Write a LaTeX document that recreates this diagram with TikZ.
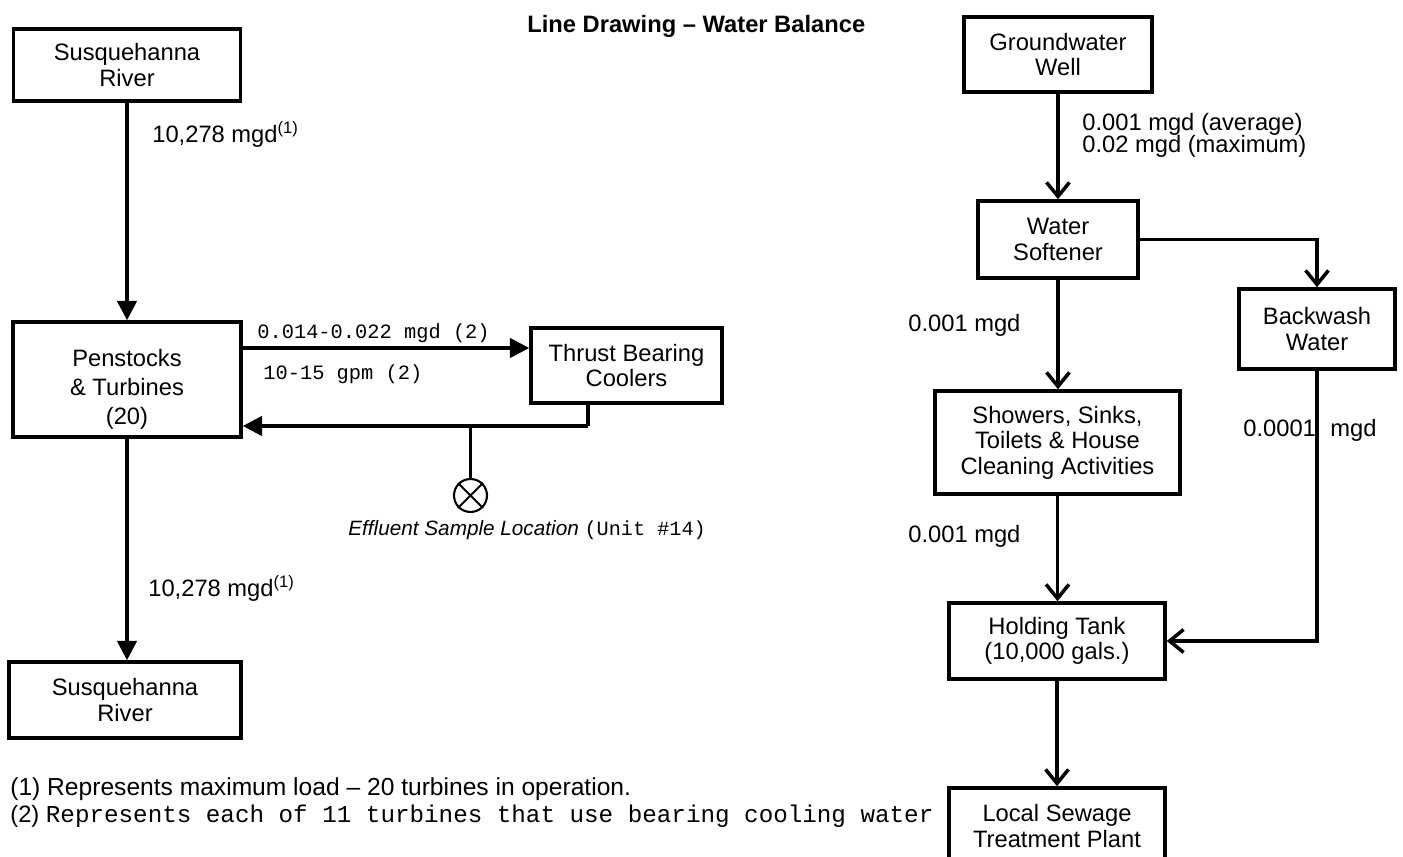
\documentclass[tikz,border=0pt]{standalone}
\usepackage{fontspec}
\setmainfont{Liberation Sans}
\setmonofont{Liberation Mono}
\usetikzlibrary{arrows.meta,calc}
\begin{document}
\begin{tikzpicture}[x=0.02cm,y=-0.02cm,
  box/.style={draw, line width=2pt, align=center, inner sep=0pt, font=\fontsize{13.5}{14.5}\selectfont},
  lbl/.style={anchor=base west, inner sep=0pt, font=\fontsize{13.5}{14.5}\selectfont},
  mlbl/.style={anchor=base west, inner sep=0pt, font=\fontsize{11.6}{13}\selectfont\ttfamily},
  flow/.style={line width=2pt, -{Triangle[length=11pt,width=11pt]}},
  oflow/.style={line width=2pt, -{Straight Barb[length=8pt,width=13pt]}},
  plainline/.style={line width=2pt}]
\useasboundingbox (0,0) rectangle (1403,857);
\clip (0,0) rectangle (1403,857);

% title
\node[anchor=base west, inner sep=0pt, font=\fontsize{13.5}{14.5}\selectfont\bfseries] (title) at (527,33) {Line Drawing -- Water Balance};

% left column
\node[box, minimum width=4.54cm, minimum height=1.44cm] (sus1) at (127,65) {Susquehanna\\River};
\node[box, minimum width=4.56cm, minimum height=2.30cm, font=\fontsize{13.5}{16.5}\selectfont] (pen) at (127,379.5) {\rule{0pt}{21pt}Penstocks\\\& Turbines\\(20)};
\node[box, minimum width=4.64cm, minimum height=1.52cm] (sus2) at (125,700) {Susquehanna\\River};
\node[box, minimum width=3.82cm, minimum height=1.50cm] (thrust) at (626.5,365.5) {Thrust Bearing\\Coolers};
\node[circle, draw, line width=1.2pt, minimum size=0.66cm, inner sep=0pt] (samp) at (470.5,495.5) {};

\draw[flow] (sus1.south) -- (sus1.south |- pen.north);
\draw[flow] (pen.south) -- (pen.south |- sus2.north);

\coordinate (fwd) at (380,348);
\coordinate (ret) at (588,426);
\coordinate (tap) at (470.5,426);
\draw[flow] (pen.east |- fwd) -- (thrust.west |- fwd);
\draw[plainline] (thrust.south -| ret) -- (ret);
\draw[flow] (ret) -- (pen.east |- ret);
\draw[plainline] (tap) -- (samp.north);
\draw[line width=1.2pt] (samp.north west) -- (samp.south east) (samp.north east) -- (samp.south west);

\node[lbl] (l1) at (152,143) {10,278 mgd\textsuperscript{(1)}};
\node[lbl] (l2) at (148,597) {10,278 mgd\textsuperscript{(1)}};
\node[mlbl] (l3) at (257,339) {0.014-0.022 mgd (2)};
\node[mlbl] (l4) at (263,380) {10-15 gpm (2)};
\node[anchor=base west, inner sep=0pt] (l5) at (348,536) {\fontsize{11.8}{13}\selectfont\itshape Effluent Sample Location \upshape\fontsize{11.5}{13}\selectfont\ttfamily(Unit \#14)};

% footnotes
\node[lbl, font=\fontsize{14}{15}\selectfont] (f1) at (10,795) {(1) Represents maximum load -- 20 turbines in operation.};
\node[lbl] (f2) at (10,822) {(2) {\fontsize{13.8}{15}\selectfont\ttfamily Represents each of 11 turbines that use bearing cooling water}};

% right column
\node[box, minimum width=3.76cm, minimum height=1.50cm] (gw) at (1058,54.5) {Groundwater\\Well};
\node[box, minimum width=3.20cm, minimum height=1.54cm] (soft) at (1058,239.5) {Water\\Softener};
\node[box, minimum width=3.12cm, minimum height=1.60cm] (back) at (1317,329) {Backwash\\Water};
\node[box, minimum width=4.90cm, minimum height=2.06cm] (show) at (1057.5,442.5) {Showers, Sinks,\\Toilets \& House\\Cleaning Activities};
\node[box, minimum width=4.32cm, minimum height=1.52cm] (hold) at (1057,641) {Holding Tank\\(10,000 gals.)};
\node[box, minimum width=4.32cm, minimum height=1.52cm] (local) at (1057,826) {Local Sewage\\Treatment Plant};

\draw[oflow] (gw.south) -- (gw.south |- soft.north);
\draw[oflow] (soft.east) -| (back.north);
\draw[oflow] (soft.south) -- (soft.south |- show.north);
\draw[oflow] (back.south) |- (hold.east);
\draw[oflow] (show.south) -- (show.south |- hold.north);
\draw[oflow] (hold.south) -- (hold.south |- local.north);

\node[lbl] (r1) at (1082,131) {0.001 mgd (average)};
\node[lbl] (r2) at (1082,153) {0.02 mgd (maximum)};
\node[lbl] (r3) at (908,332) {0.001 mgd};
\node[lbl] (r4) at (1243,437) {0.0001};
\node[lbl] (r5) at (1330,437) {mgd};
\node[lbl] (r6) at (908,543) {0.001 mgd};
\end{tikzpicture}
\end{document}
